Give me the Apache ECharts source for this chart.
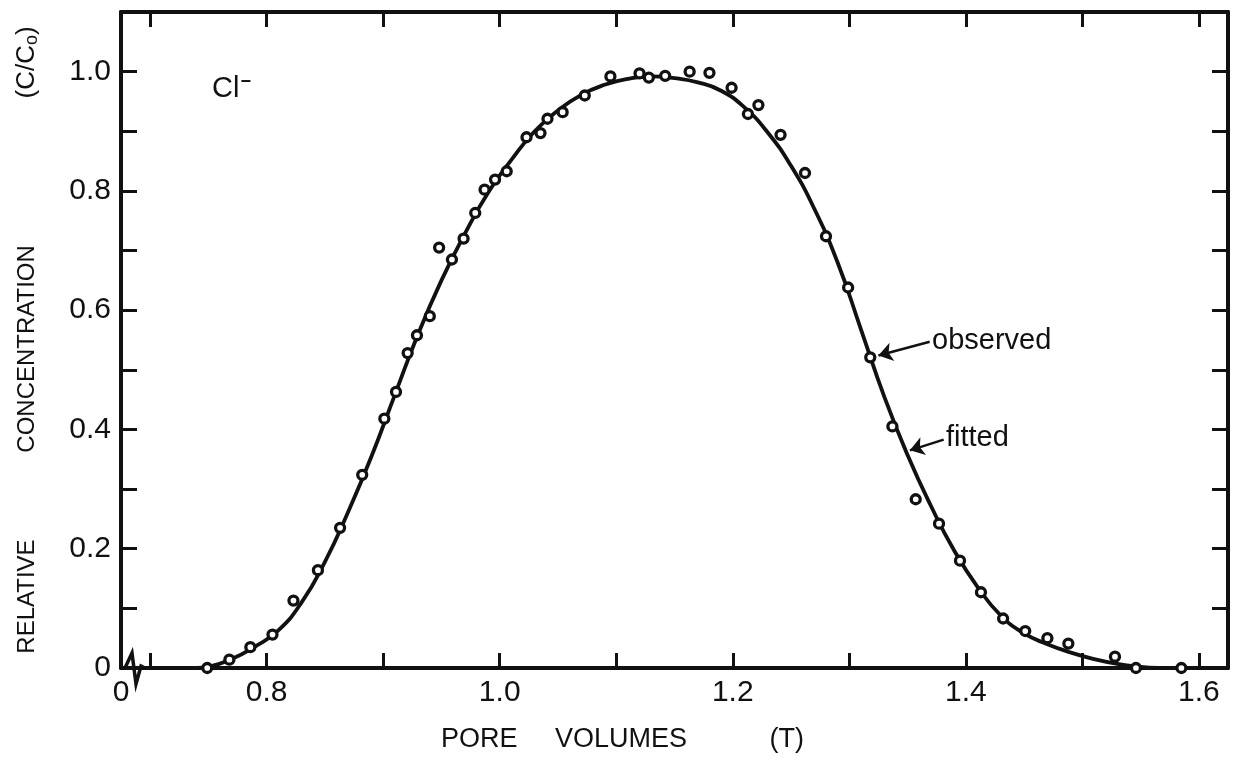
<!DOCTYPE html>
<html>
<head>
<meta charset="utf-8">
<script src="https://cdn.jsdelivr.net/npm/echarts@6/dist/echarts.min.js"></script>
<style>
  html, body { margin: 0; padding: 0; background: #fff; }
  #chart { width: 1240px; height: 760px; }
</style>
</head>
<body>
<div id="chart"></div>
<script>
// observed points: pore volumes (T) and relative concentration (C/C0)
const obsT = [0.749, 0.768, 0.786, 0.805, 0.823, 0.844, 0.863, 0.882, 0.901, 0.911,
              0.921, 0.929, 0.940, 0.948, 0.959, 0.969, 0.979, 0.987, 0.996, 1.006,
              1.023, 1.035, 1.041, 1.054, 1.073, 1.095, 1.120, 1.128, 1.142, 1.163,
              1.180, 1.199, 1.213, 1.222, 1.241, 1.262, 1.280, 1.299, 1.318, 1.337,
              1.357, 1.377, 1.395, 1.413, 1.432, 1.451, 1.470, 1.488, 1.528, 1.546, 1.585];
const obsC = [0.000, 0.014, 0.035, 0.056, 0.113, 0.164, 0.235, 0.324, 0.418, 0.463,
              0.528, 0.558, 0.590, 0.705, 0.685, 0.720, 0.763, 0.802, 0.819, 0.833,
              0.890, 0.897, 0.921, 0.932, 0.960, 0.992, 0.997, 0.990, 0.993, 1.000,
              0.998, 0.973, 0.929, 0.944, 0.894, 0.830, 0.724, 0.638, 0.521, 0.405,
              0.283, 0.242, 0.180, 0.127, 0.083, 0.062, 0.050, 0.041, 0.019, 0.000, 0.000];

// fitted curve
const fitT = [0.740, 0.750, 0.770, 0.790, 0.810, 0.830, 0.850, 0.870, 0.890, 0.910,
              0.930, 0.950, 0.970, 0.990, 1.010, 1.030, 1.050, 1.070, 1.090, 1.110,
              1.130, 1.150, 1.170, 1.190, 1.210, 1.230, 1.250, 1.270, 1.290, 1.310,
              1.330, 1.350, 1.370, 1.390, 1.410, 1.430, 1.450, 1.470, 1.490, 1.510,
              1.530, 1.550, 1.565];
const fitC = [0.000, 0.002, 0.015, 0.036, 0.063, 0.110, 0.178, 0.262, 0.355, 0.458,
              0.560, 0.650, 0.728, 0.797, 0.852, 0.900, 0.935, 0.961, 0.978, 0.988,
              0.992, 0.989, 0.982, 0.968, 0.940, 0.898, 0.842, 0.770, 0.680, 0.568,
              0.455, 0.357, 0.272, 0.197, 0.136, 0.088, 0.058, 0.040, 0.026, 0.015,
              0.007, 0.002, 0.000];

// axis ticks and labels
const xMin = 0.675, xMax = 1.625;
const xTicks = [0.7, 0.8, 0.9, 1.0, 1.1, 1.2, 1.3, 1.4, 1.5, 1.6];
const xLabels = [0.675, 0.8, 1.0, 1.2, 1.4, 1.6];
const yTicks = [0.1, 0.2, 0.3, 0.4, 0.5, 0.6, 0.7, 0.8, 0.9, 1.0];
const yLabels = [0, 0.2, 0.4, 0.6, 0.8, 1.0];

const ink = '#111';
const font = "'Liberation Sans', Arial, sans-serif";

const chart = echarts.init(document.getElementById('chart'));

const lineAxis = { show: true, onZero: false, lineStyle: { color: ink, width: 4 } };
const tickStyle = { color: ink, width: 3 };

const option = {
    backgroundColor: '#fff',
    animation: false,
    title: {
        text: 'Cl{sup|−}',
        left: 207,
        top: 68,
        textStyle: {
            color: ink, fontFamily: font, fontSize: 29, fontWeight: 'normal',
            rich: { sup: { fontSize: 18, verticalAlign: 'top', padding: [0, 0, 14, 1], color: ink, fontWeight: 'bold' } }
        }
    },
    grid: { left: 121, right: 12, top: 12, bottom: 92 },
    xAxis: [
        {
            type: 'value',
            min: xMin,
            max: xMax,
            position: 'bottom',
            axisLine: lineAxis,
            axisTick: { show: true, inside: true, length: 15, lineStyle: tickStyle, customValues: xTicks },
            axisLabel: {
                color: ink, fontFamily: font, fontSize: 30, margin: 10,
                customValues: xLabels,
                formatter: v => (v < 0.7 ? '0' : v.toFixed(1))
            },
            splitLine: { show: false },
            name: 'PORE     VOLUMES           (T)',
            nameLocation: 'middle',
            nameGap: 58,
            nameTextStyle: { color: ink, fontFamily: font, fontSize: 27, padding: [0, 104, 0, 0] }
        },
        {
            type: 'value',
            min: xMin,
            max: xMax,
            position: 'top',
            axisLine: lineAxis,
            axisTick: { show: true, inside: true, length: 15, lineStyle: tickStyle, customValues: xTicks },
            axisLabel: { show: false },
            splitLine: { show: false }
        }
    ],
    yAxis: [
        {
            type: 'value',
            min: 0,
            max: 1.1,
            position: 'left',
            axisLine: lineAxis,
            axisTick: { show: true, inside: true, length: 16, lineStyle: tickStyle, customValues: yTicks },
            axisLabel: {
                color: ink, fontFamily: font, fontSize: 30, margin: 10,
                customValues: yLabels,
                formatter: v => (v === 0 ? '0' : v.toFixed(1))
            },
            splitLine: { show: false },
            name: 'RELATIVE             CONCENTRATION                      {p|(C/C}{sub|o}{p|)}',
            nameLocation: 'middle',
            nameGap: 80,
            nameTextStyle: {
                color: ink, fontFamily: font, fontSize: 24,
                rich: {
                    p: { fontSize: 26, color: ink, fontFamily: font },
                    sub: { fontSize: 18, verticalAlign: 'bottom', padding: [10, 0, 0, 0], color: ink, fontFamily: font }
                }
            }
        },
        {
            type: 'value',
            min: 0,
            max: 1.1,
            position: 'right',
            axisLine: lineAxis,
            axisTick: { show: true, inside: true, length: 16, lineStyle: tickStyle, customValues: yTicks },
            axisLabel: { show: false },
            splitLine: { show: false }
        }
    ],
    series: [
        {
            name: 'fitted',
            type: 'line',
            data: fitT.map((t, i) => [t, fitC[i]]),
            showSymbol: false,
            smooth: 0.5,
            lineStyle: { color: ink, width: 3.8 },
            z: 3,
            markLine: {
                silent: true,
                symbol: ['none', 'arrow'],
                symbolSize: 14,
                lineStyle: { color: ink, width: 2.5, type: 'solid' },
                itemStyle: { color: ink },
                label: { show: false },
                data: [
                    [{ coord: [1.369, 0.547], symbol: 'none' }, { coord: [1.325, 0.524], symbol: 'arrow' }],
                    [{ coord: [1.381, 0.383], symbol: 'none' }, { coord: [1.352, 0.365], symbol: 'arrow' }]
                ]
            },
            markPoint: {
                silent: true,
                symbol: 'circle',
                symbolSize: 0,
                label: {
                    show: true, position: 'right', distance: 0,
                    color: ink, fontFamily: font, fontSize: 29
                },
                data: [
                    { coord: [1.371, 0.549], label: { formatter: 'observed' } },
                    { coord: [1.383, 0.386], label: { formatter: 'fitted' } }
                ]
            }
        },
        {
            name: 'observed',
            type: 'scatter',
            data: obsT.map((t, i) => [t, obsC[i]]),
            symbol: 'circle',
            symbolSize: 9,
            itemStyle: { color: '#fff', borderColor: ink, borderWidth: 3.3, opacity: 1 },
            z: 5
        }
    ]
};

chart.setOption(option);

// axis-break zigzag near the origin of the T axis
const o = chart.convertToPixel({ gridIndex: 0 }, [xMin, 0]);
chart.setOption({
    graphic: [{
        type: 'polyline',
        shape: { points: [[o[0] + 4, o[1]], [o[0] + 11, o[1] - 15], [o[0] + 15, o[1] + 16], [o[0] + 20, o[1] - 2], [o[0] + 24, o[1]]] },
        style: { stroke: ink, lineWidth: 3.5, fill: 'none' },
        z: 10
    }]
});

window.addEventListener('resize', function () {
    chart.resize();
});
</script>
</body>
</html>
